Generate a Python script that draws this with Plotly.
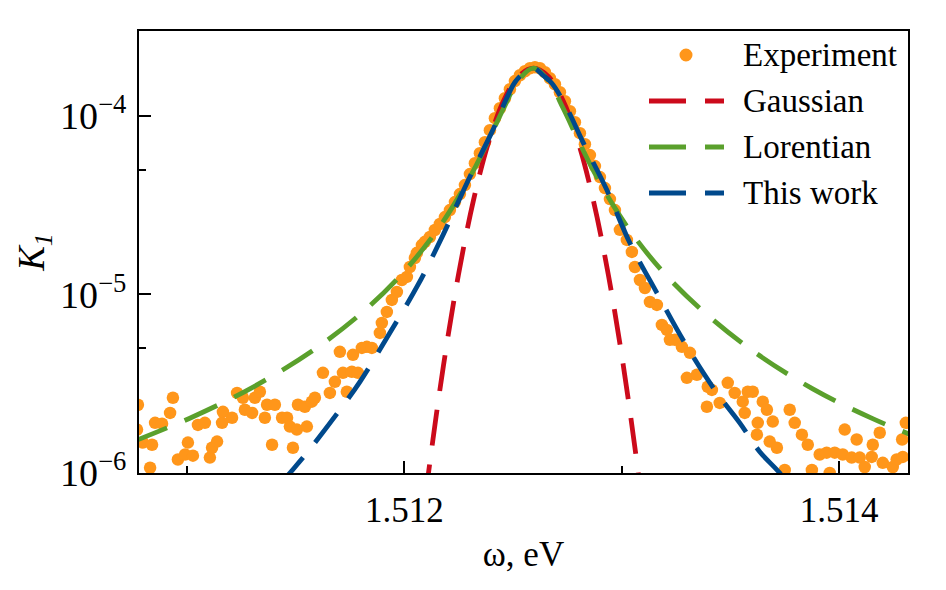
import plotly.graph_objects as go

# ---------------- data ----------------
exp_omega = [
    1.510771, 1.510775, 1.510798, 1.510831, 1.510840, 1.510854, 1.510886, 1.510923, 1.510936, 1.510959,
    1.510992, 1.511005, 1.511028, 1.511051, 1.511083, 1.511106, 1.511116, 1.511139, 1.511162, 1.511166,
    1.511208, 1.511231, 1.511258, 1.511267, 1.511300, 1.511313, 1.511336, 1.511359, 1.511369, 1.511392,
    1.511405, 1.511438, 1.511461, 1.511474, 1.511488, 1.511506, 1.511511, 1.511543, 1.511552, 1.511575,
    1.511589, 1.511626, 1.511658, 1.511681, 1.511704, 1.511718, 1.511736, 1.511759, 1.511764, 1.511787,
    1.511805, 1.511828, 1.511851, 1.511888, 1.511897, 1.511920, 1.511943, 1.511966, 1.511989, 1.512012,
    1.512026, 1.512049, 1.512058, 1.512081, 1.512095,
    1.512118, 1.512141, 1.512164, 1.512187, 1.512210, 1.512233, 1.512256, 1.512279, 1.512302, 1.512325,
    1.512348, 1.512371, 1.512394, 1.512417, 1.512440, 1.512463, 1.512486, 1.512509, 1.512532, 1.512555,
    1.512578, 1.512601, 1.512624, 1.512647, 1.512670, 1.512693, 1.512716, 1.512739, 1.512762, 1.512785,
    1.512808, 1.512831, 1.512854, 1.512877, 1.512900, 1.512923, 1.512946, 1.512969,
    1.512992, 1.513024, 1.513047, 1.513061, 1.513084, 1.513107, 1.513130, 1.513162, 1.513185, 1.513208,
    1.513222, 1.513245, 1.513277, 1.513300, 1.513314, 1.513346, 1.513392, 1.513396, 1.513415, 1.513451,
    1.513488, 1.513520, 1.513557, 1.513566, 1.513580, 1.513603, 1.513622, 1.513626, 1.513649, 1.513668,
    1.513681, 1.513695, 1.513714, 1.513750, 1.513773, 1.513796, 1.513829, 1.513856, 1.513875, 1.513911,
    1.513943, 1.513957, 1.513980, 1.514017, 1.514026, 1.514058, 1.514081, 1.514095, 1.514118, 1.514150,
    1.514155, 1.514187, 1.514201, 1.514247, 1.514265, 1.514290, 1.514293, 1.514307,
]
exp_K = [
    1.75e-6, 2.41e-6, 1.48e-6, 1.07e-6, 1.44e-6, 1.91e-6, 1.89e-6, 2.17e-6, 2.64e-6, 1.19e-6,
    1.27e-6, 1.48e-6, 1.25e-6, 1.86e-6, 1.91e-6, 1.22e-6, 1.385e-6, 1.50e-6, 1.91e-6, 2.20e-6,
    2.04e-6, 2.81e-6, 2.64e-6, 2.26e-6, 2.17e-6, 2.64e-6, 2.85e-6, 2.04e-6, 2.41e-6, 1.44e-6,
    2.41e-6, 2.04e-6, 2.04e-6, 1.82e-6, 1.385e-6, 1.75e-6, 2.41e-6, 2.35e-6, 1.82e-6, 2.51e-6,
    2.64e-6, 3.64e-6, 2.81e-6, 3.24e-6, 4.77e-6, 3.64e-6, 2.85e-6, 3.69e-6, 4.59e-6, 3.64e-6,
    5.02e-6, 5.09e-6, 5.02e-6, 6.09e-6, 6.93e-6, 7.98e-6, 9.32e-6, 1.033e-5, 1.205e-5, 1.253e-5,
    1.425e-5, 1.60e-5, 1.71e-5, 1.89e-5, 1.97e-5,
    2.097e-5, 2.295e-5, 2.479e-5, 2.713e-5, 2.969e-5, 3.292e-5, 3.648e-5, 4.096e-5, 4.719e-5, 5.438e-5,
    6.185e-5, 7.125e-5, 8.318e-5, 9.707e-5, 1.104e-4, 1.256e-4, 1.410e-4, 1.567e-4, 1.689e-4, 1.778e-4,
    1.848e-4, 1.873e-4, 1.848e-4, 1.755e-4, 1.625e-4, 1.504e-4, 1.357e-4, 1.208e-4, 1.062e-4, 9.22e-5,
    8.00e-5, 6.945e-5, 6.030e-5, 5.234e-5, 4.543e-5, 3.942e-5, 3.420e-5, 2.969e-5,
    2.30e-5, 2.02e-5, 1.73e-5, 1.425e-5, 1.205e-5, 1.087e-5, 9.08e-6, 8.74e-6, 6.75e-6, 6.33e-6,
    5.57e-6, 5.57e-6, 5.09e-6, 3.41e-6, 4.71e-6, 3.55e-6, 2.35e-6, 3.04e-6, 2.92e-6, 2.47e-6,
    3.20e-6, 2.81e-6, 2.51e-6, 2.17e-6, 2.85e-6, 2.85e-6, 1.64e-6, 1.91e-6, 2.51e-6, 2.26e-6,
    1.50e-6, 1.94e-6, 1.385e-6, 1.04e-6, 2.26e-6, 1.91e-6, 1.64e-6, 1.44e-6, 1.04e-6, 1.27e-6,
    1.30e-6, 1.00e-6, 1.30e-6, 1.27e-6, 1.75e-6, 1.22e-6, 1.54e-6, 1.22e-6, 1.08e-6, 1.23e-6,
    1.44e-6, 1.68e-6, 1.14e-6, 1.08e-6, 1.19e-6, 1.54e-6, 1.23e-6, 1.91e-6,
]

gauss_omega = [1.512065, 1.512111, 1.512180, 1.512249, 1.512318, 1.512387, 1.512456, 1.512525,
               1.512594, 1.512663, 1.512732, 1.512801, 1.512870, 1.512939, 1.513008, 1.513077, 1.513123]
gauss_K = [3.49e-7, 9.90e-7, 3.967e-6, 1.283e-5, 3.352e-5, 7.076e-5, 1.207e-4, 1.662e-4,
           1.849e-4, 1.662e-4, 1.207e-4, 7.076e-5, 3.352e-5, 1.283e-5, 3.967e-6, 9.90e-7, 3.49e-7]

lor_omega = [1.510755, 1.511031, 1.511307, 1.511582, 1.511812, 1.511996, 1.512134, 1.512226,
             1.512318, 1.512387, 1.512456, 1.512525, 1.512594, 1.512663, 1.512732, 1.512801,
             1.512870, 1.512962, 1.513054, 1.513192, 1.513376, 1.513606, 1.513881, 1.514157, 1.514433]
lor_K = [1.502e-6, 2.073e-6, 3.04e-6, 4.875e-6, 8.02e-6, 1.330e-5, 2.142e-5, 3.144e-5,
         4.935e-5, 7.266e-5, 1.096e-4, 1.578e-4, 1.849e-4, 1.578e-4, 1.096e-4, 7.266e-5,
         4.935e-5, 3.144e-5, 2.142e-5, 1.330e-5, 8.02e-6, 4.80e-6, 2.95e-6, 2.01e-6, 1.46e-6]

work_omega = [1.511428, 1.511474, 1.511553, 1.511704, 1.511796, 1.511934, 1.512063, 1.512178,
              1.512288, 1.512403, 1.512509, 1.512555, 1.512596, 1.512638, 1.512679, 1.512748,
              1.512822, 1.512932, 1.513038, 1.513162, 1.513290, 1.513428, 1.513543, 1.513635,
              1.513727, 1.513773]
work_K = [8.6e-7, 1.0e-6, 1.30e-6, 2.26e-6, 3.24e-6, 6.10e-6, 1.13e-5, 2.15e-5,
          4.20e-5, 8.11e-5, 1.543e-4, 1.75e-4, 1.848e-4, 1.689e-4, 1.524e-4, 1.104e-4,
          7.13e-5, 3.84e-5, 1.94e-5, 1.02e-5, 5.36e-6, 2.92e-6, 1.91e-6, 1.315e-6,
          1.0e-6, 8.3e-7]

series_names = ["Experiment", "Gaussian", "Lorentian", "This work"]
x_range = [1.51078, 1.514317]
y_range_log = [-6, -3.5246]
x_tickvals = [1.512, 1.514]
x_ticktext = ["1.512", "1.514"]
x_minor_vals = [1.511, 1.513]
y_tickvals = [1e-6, 1e-5, 1e-4]
y_ticktext = ["10<sup>\u22126</sup>", "10<sup>\u22125</sup>", "10<sup>\u22124</sup>"]
y_minor_vals = [5e-6, 5e-5]

# ---------------- styles ----------------
FONT = "Liberation Serif"
C_EXP = "#FF961A"
C_GAU = "#CC0A1B"
C_LOR = "#5AA02C"
C_WORK = "#00498C"
LW = 4.8
DASH = "36px,19px"

W, H = 946, 590
ML, MR, MT, MB = 139, 38, 31, 117
PW, PH = W - ML - MR, H - MT - MB


def px_x(px):
    return (px - ML) / PW


def px_y(py):
    return (H - MB - py) / PH


fig = go.Figure()
fig.add_trace(go.Scatter(x=exp_omega, y=exp_K, mode="markers", name=series_names[0],
                         marker=dict(size=12.5, color=C_EXP, line=dict(width=0)),
                         showlegend=False))
for om, kk, col, nm in [(gauss_omega, gauss_K, C_GAU, series_names[1]),
                        (lor_omega, lor_K, C_LOR, series_names[2]),
                        (work_omega, work_K, C_WORK, series_names[3])]:
    fig.add_trace(go.Scatter(x=om, y=kk, mode="lines", name=nm,
                             line=dict(color=col, width=LW, dash=DASH, shape="spline", smoothing=1.0),
                             showlegend=False))

# custom legend (matches matplotlib-style legend samples)
leg_rows = [55, 101, 147, 193]
shapes = []
annotations = []
r = 6.5
shapes.append(dict(type="circle", xref="paper", yref="paper",
                   x0=px_x(686 - r), x1=px_x(686 + r), y0=px_y(leg_rows[0] + r), y1=px_y(leg_rows[0] - r),
                   fillcolor=C_EXP, line=dict(width=0)))
for row, col in zip(leg_rows[1:], [C_GAU, C_LOR, C_WORK]):
    shapes.append(dict(type="line", xref="paper", yref="paper",
                       x0=px_x(649), x1=px_x(724), y0=px_y(row), y1=px_y(row),
                       line=dict(color=col, width=LW, dash="37px,19px")))
for row, nm in zip(leg_rows, series_names):
    annotations.append(dict(text=nm, xref="paper", yref="paper", x=px_x(741), y=px_y(row),
                            xanchor="left", yanchor="middle", showarrow=False,
                            font=dict(family=FONT, size=33, color="black")))

axis_common = dict(showline=True, linecolor="black", linewidth=2, mirror=True,
                   ticks="inside", tickcolor="black", tickwidth=1.5, ticklen=12,
                   showgrid=False, zeroline=False)

fig.update_layout(
    width=W, height=H,
    margin=dict(l=ML, r=MR, t=MT, b=MB, pad=0),
    paper_bgcolor="white", plot_bgcolor="white",
    showlegend=False,
    shapes=shapes, annotations=annotations,
    xaxis=dict(range=x_range, tickmode="array", tickvals=x_tickvals, ticktext=x_ticktext,
               minor=dict(tickmode="array", tickvals=x_minor_vals, ticks="inside", ticklen=7,
                          tickwidth=1.5, tickcolor="black", showgrid=False),
               title=dict(text="\u03c9, eV", font=dict(family=FONT, size=35, color="black"), standoff=12),
               tickfont=dict(family=FONT, size=35, color="black"),
               ticklabelstandoff=5,
               **axis_common),
    yaxis=dict(type="log", range=y_range_log, tickmode="array", tickvals=y_tickvals, ticktext=y_ticktext,
               minor=dict(tickmode="array", tickvals=y_minor_vals, ticks="inside", ticklen=7,
                          tickwidth=1.5, tickcolor="black", showgrid=False),
               title=dict(text="<i>K</i><sub><i>1</i></sub>", font=dict(family=FONT, size=37, color="black"),
                          standoff=4),
               tickfont=dict(family=FONT, size=38, color="black"),
               ticklabelstandoff=3,
               **axis_common),
)

fig.write_html("out.html")
